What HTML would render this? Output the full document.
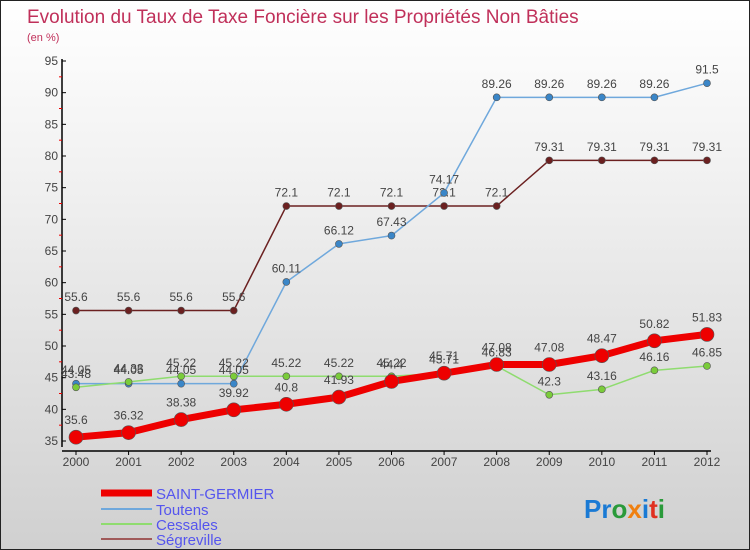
<!DOCTYPE html>
<html><head><meta charset="utf-8"><style>
body{margin:0;}
#wrap{width:748px;height:548px;border:1px solid #222;background:linear-gradient(#fff,#f2f2f2 30%,#d0d0d0);position:relative;overflow:hidden;font-family:"Liberation Sans",sans-serif;}
svg text{font-family:"Liberation Sans",sans-serif;}
</style></head><body>
<div id="wrap">
<svg id="chart" width="750" height="550">
<text x="26" y="22" font-size="19" fill="#c0305a">Evolution du Taux de Taxe Foncière sur les Propriétés Non Bâties</text>
<text x="26" y="40" font-size="11" fill="#c0305a">(en %)</text>
<g id="axes"></g><g id="series"></g>
<g>
<line x1="100" y1="492" x2="151" y2="492" stroke="#e00" stroke-width="7"/>
<text x="155" y="498" font-size="15" fill="#5555ee">SAINT-GERMIER</text>
<line x1="100" y1="508" x2="151" y2="508" stroke="#6fa8dc" stroke-width="2"/>
<text x="155" y="514" font-size="15" fill="#5555ee">Toutens</text>
<line x1="100" y1="523" x2="151" y2="523" stroke="#8fdc6f" stroke-width="2"/>
<text x="155" y="529" font-size="15" fill="#5555ee">Cessales</text>
<line x1="100" y1="538" x2="151" y2="538" stroke="#a05a5a" stroke-width="2"/>
<text x="155" y="544" font-size="15" fill="#5555ee">Ségreville</text>
</g>
<text x="583" y="517" font-size="26" font-weight="bold"><tspan fill="#1a7ad4">Pr</tspan><tspan fill="#2a9a3a">o</tspan><tspan fill="#f08010">x</tspan><tspan fill="#1a7ad4">i</tspan><tspan fill="#e03020">t</tspan><tspan fill="#2a9a3a">i</tspan></text>
</svg>
</div>
<script>
const years=[2000,2001,2002,2003,2004,2005,2006,2007,2008,2009,2010,2011,2012];
const saintGermier=[35.6,36.32,38.38,39.92,40.8,41.93,44.4,45.71,47.08,47.08,48.47,50.82,51.83];
const toutens=[44.05,44.05,44.05,44.05,60.11,66.12,67.43,74.17,89.26,89.26,89.26,89.26,91.5];
const cessales=[43.48,44.33,45.22,45.22,45.22,45.22,45.22,45.71,46.83,42.3,43.16,46.16,46.85];
const segreville=[55.6,55.6,55.6,55.6,72.1,72.1,72.1,72.1,72.1,79.31,79.31,79.31,79.31];
const yTicks=[35,40,45,50,55,60,65,70,75,80,85,90,95];
const NS="http://www.w3.org/2000/svg";
function xS(i){return 75+i*(706-75)/(years.length-1);}
function yS(v){return 440-(v-35)*380/60;}
function mk(t,a,p){const e=document.createElementNS(NS,t);for(const k in a)e.setAttribute(k,a[k]);p.appendChild(e);return e;}
const ax=document.getElementById('axes');
let l=mk('line',{x1:61,y1:58,x2:61,y2:446,stroke:'#000','stroke-width':1.5},ax);


l=mk('line',{x1:61,y1:450,x2:710,y2:450,stroke:'#000','stroke-width':1.5},ax);


yTicks.forEach(v=>{
 mk('line',{x1:61,y1:yS(v),x2:65,y2:yS(v),stroke:'#000'},ax);
 if(v<95)mk('line',{x1:58,y1:yS(v+2.5),x2:61,y2:yS(v+2.5),stroke:'#e00'},ax);
 const t=mk('text',{x:57,y:yS(v)+4,'font-size':12,fill:'#444','text-anchor':'end'},ax);t.textContent=v;
 
 
});
years.forEach((y,i)=>{
 mk('line',{x1:xS(i),y1:450,x2:xS(i),y2:454,stroke:'#000'},ax);
 const t=mk('text',{x:xS(i),y:465,'font-size':12,fill:'#444','text-anchor':'middle'},ax);t.textContent=y;
 
 
});
const sg=document.getElementById('series');
function draw(data,name,color,w,r,mc){
 const g=mk('g',{},sg);
 
 
 const p=mk('polyline',{points:data.map((v,i)=>xS(i)+','+yS(v)).join(' '),fill:'none',stroke:color,'stroke-width':w,'stroke-linejoin':'round'},g);
 
 
 data.forEach((v,i)=>{
  const c=mk('circle',{cx:xS(i),cy:yS(v),r:r,fill:mc,stroke:'#555','stroke-width':0.6},g);
  
  
  const t=mk('text',{x:xS(i),y:yS(v)-(r+6),'font-size':12,fill:'#444','text-anchor':'middle'},g);t.textContent=v;
  
  
 });
}
draw(segreville,'segreville','#6b2020',1.5,3.5,'#6b2020');
draw(toutens,'toutens','#6fa8dc',1.5,3.5,'#3a86c8');
draw(cessales,'cessales','#8fdc6f',1.5,3.5,'#7acc3a');
draw(saintGermier,'saint-germier','#e00',7,7,'#e00');
</script>
</body></html>
